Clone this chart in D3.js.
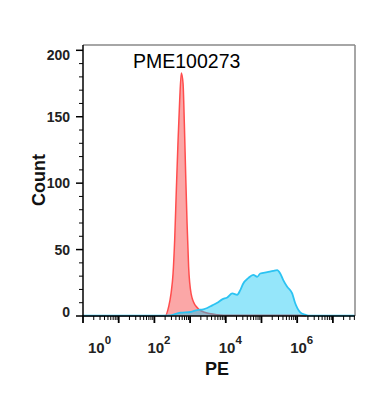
<!DOCTYPE html>
<html>
<head>
<meta charset="utf-8">
<script src="https://cdn.jsdelivr.net/npm/d3@7"></script>
<style>
  html, body { margin: 0; padding: 0; background: #fff; }
  svg { display: block; font-family: "Liberation Sans", Arial, Helvetica, sans-serif; }
</style>
</head>
<body>
<svg id="chart" width="378" height="400"></svg>
<script>
// ---- data (x in log10 units of PE, y = count) ----
const title = "PME100273";
const xLabel = "PE";
const yLabel = "Count";

const controlLog = [0, 2.2, 2.30, 2.40, 2.467, 2.523, 2.568, 2.615, 2.663, 2.708, 2.755, 2.803, 2.839, 2.876, 2.915, 2.959, 3.027, 3.147, 3.379, 3.754, 4.126, 5.0, 6.08, 6.25];
const controlCount = [0, 0, 0, 7, 17, 32, 57, 95, 132, 162, 183, 175, 145, 107, 70, 37, 17, 8, 3, 1, 0.5, 0.5, 0.5, 0];

const sampleLog = [0, 2.0, 2.45, 2.727, 3.007, 3.203, 3.37, 3.48, 3.62, 3.762, 3.90, 4.042, 4.182, 4.32, 4.406, 4.49, 4.63, 4.77, 4.88, 4.965, 5.16, 5.33, 5.44, 5.525, 5.61, 5.72, 5.86, 5.94, 6.08, 6.22, 6.31, 7.62];
const sampleCount = [0.3, 0.3, 0.5, 2.5, 3, 4.5, 5, 6, 8, 10, 12.5, 14, 17, 16, 19.5, 24.5, 28.5, 31, 29.5, 32, 33, 34, 34.5, 32, 27, 22, 17, 10, 3, 1, 0.3, 0.3];

const yTicks = [0, 50, 100, 150, 200];
const xLabelDecades = [0, 2, 4, 6];

// ---- layout ----
const svg = d3.select("#chart");
const mLeft = 83, mRight = 355, mTop = 45, mBottom = 316;

const x = d3.scaleLog().domain([1, Math.pow(10, 7.62)]).range([mLeft, mRight]);
const y = d3.scaleLinear().domain([0, 204]).range([mBottom, mTop]);

const toPts = (lg, c) => lg.map((v, i) => [Math.pow(10, v), c[i]]);
const control = toPts(controlLog, controlCount);
const sample = toPts(sampleLog, sampleCount);

const area = d3.area().x(d => x(d[0])).y0(y(0)).y1(d => y(d[1])).curve(d3.curveMonotoneX);
const line = d3.line().x(d => x(d[0])).y(d => y(d[1])).curve(d3.curveMonotoneX);

// control (red)
svg.append("path").datum(control).attr("d", area).attr("fill", "rgba(248,80,80,0.5)");
svg.append("path").datum(control).attr("d", line).attr("fill", "none").attr("stroke", "#ff4d4d").attr("stroke-width", 1.5);
// sample (blue)
svg.append("path").datum(sample).attr("d", area).attr("fill", "rgba(20,200,245,0.45)");
svg.append("path").datum(sample).attr("d", line).attr("fill", "none").attr("stroke", "#2cc3f2").attr("stroke-width", 1.8);

// frame top & right
svg.append("line").attr("x1", mLeft).attr("x2", mRight).attr("y1", mTop).attr("y2", mTop).attr("stroke", "#888").attr("stroke-width", 1.5);
svg.append("line").attr("x1", mRight).attr("x2", mRight).attr("y1", mTop).attr("y2", mBottom).attr("stroke", "#888").attr("stroke-width", 1.5);

// y axis
svg.append("line").attr("x1", mLeft).attr("x2", mLeft).attr("y1", mTop).attr("y2", mBottom + 0.5).attr("stroke", "#000").attr("stroke-width", 1.5);
const yMinor = d3.range(0, 201, 10);
svg.selectAll(".ytk").data(yMinor).enter().append("line")
  .attr("x1", d => d % 50 === 0 ? mLeft - 7 : mLeft - 4).attr("x2", mLeft)
  .attr("y1", d => y(d)).attr("y2", d => y(d))
  .attr("stroke", "#000").attr("stroke-width", d => d % 50 === 0 ? 1.5 : 1);
svg.selectAll(".ylab").data(yTicks).enter().append("text")
  .attr("x", 70)
  .attr("y", d => Math.min(Math.max(y(d), 55), 312))
  .attr("dy", "0.36em")
  .attr("text-anchor", "end")
  .attr("font-size", 14).attr("font-weight", "bold").attr("fill", "#222")
  .text(d => d);

// x axis
svg.append("line").attr("x1", mLeft - 0.75).attr("x2", mRight).attr("y1", mBottom).attr("y2", mBottom).attr("stroke", "#000").attr("stroke-width", 1.5);
const xt = [];
for (let e = 0; e <= 7; e++) {
  for (let m = 1; m <= 9; m++) {
    const v = m * Math.pow(10, e);
    if (v <= x.domain()[1]) xt.push({ v, major: m === 1 });
  }
}
svg.selectAll(".xtk").data(xt).enter().append("line")
  .attr("x1", d => x(d.v)).attr("x2", d => x(d.v))
  .attr("y1", mBottom).attr("y2", d => d.major ? mBottom + 7 : mBottom + 4)
  .attr("stroke", "#000").attr("stroke-width", d => d.major ? 1.8 : 1);

const xl = svg.selectAll(".xlab").data(xLabelDecades).enter().append("text")
  .attr("x", d => Math.max(x(Math.pow(10, d)) - 7, mLeft + 5))
  .attr("y", 353)
  .attr("font-size", 15).attr("font-weight", "bold").attr("fill", "#222");
xl.append("tspan").text("10");
xl.append("tspan").attr("dy", -9).attr("font-size", 11.5).text(d => d);

// axis titles
svg.append("text").attr("x", (mLeft + mRight) / 2 - 2).attr("y", 375).attr("text-anchor", "middle")
  .attr("font-size", 18).attr("font-weight", "bold").attr("fill", "#111").text(xLabel);
svg.append("text").attr("transform", "translate(45,180) rotate(-90)").attr("text-anchor", "middle")
  .attr("font-size", 18).attr("font-weight", "bold").attr("fill", "#111").text(yLabel);

// title
svg.append("text").attr("x", 133).attr("y", 68).attr("font-size", 19.5).attr("fill", "#000").text(title);
</script>
</body>
</html>
